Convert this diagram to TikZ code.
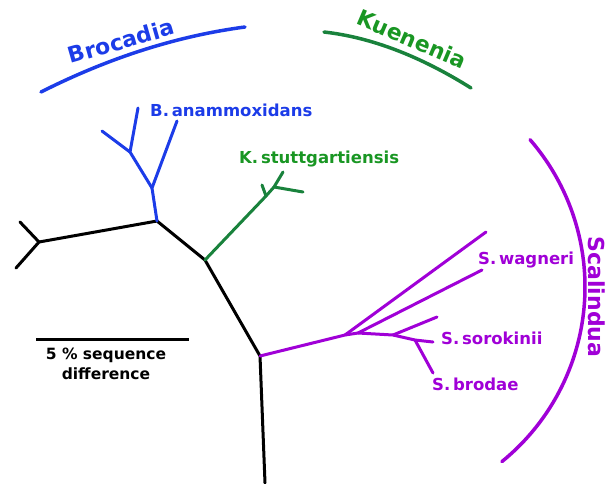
\documentclass[tikz,border=0pt]{standalone}
\usepackage{fontspec}
\setmainfont{DejaVu Sans}
\begin{document}
\definecolor{brocblue}{RGB}{28,60,232}
\definecolor{kuline}{RGB}{25,130,60}
\definecolor{kutext}{RGB}{25,150,35}
\definecolor{scapurple}{RGB}{160,0,215}
\begin{tikzpicture}[x=1pt,y=-1pt,
  branch/.style={line width=3pt,line cap=round,line join=round},
  clade/.style={line width=3.5pt,line cap=round},
  species/.style={font=\fontsize{16.5}{18}\selectfont\bfseries,inner sep=0pt,anchor=west},
  cladelabel/.style={font=\fontsize{22}{24}\selectfont\bfseries,inner sep=0pt}]
\useasboundingbox (0,0) rectangle (609,483);
% black backbone
\coordinate (bot) at (265,483);
\coordinate (n3) at (260,356);
\coordinate (n2) at (205,260);
\coordinate (n1) at (157,221);
\coordinate (l) at (39,242);
\coordinate (lt) at (20,222);
\coordinate (lb) at (16,268);
\draw[branch,black] (bot) -- (n3) -- (n2) -- (n1) -- (l);
\draw[branch,black] (lt) -- (l) -- (lb);
% blue Brocadia
\coordinate (b1) at (152,188);
\coordinate (b2) at (130,152);
\coordinate (bt1) at (177,121);
\coordinate (bt2) at (138,108);
\coordinate (bt3) at (102,131);
\draw[branch,brocblue] (n1) -- (b1) -- (bt1);
\draw[branch,brocblue] (b1) -- (b2) -- (bt2);
\draw[branch,brocblue] (b2) -- (bt3);
% green Kuenenia
\coordinate (g1) at (266,196);
\coordinate (gs) at (262,185);
\coordinate (g2) at (274,187);
\coordinate (gt1) at (283,172);
\coordinate (gt2) at (303,192);
\draw[branch,kuline] (n2) -- (g1) -- (g2) -- (gt1);
\draw[branch,kuline] (g1) -- (gs);
\draw[branch,kuline] (g2) -- (gt2);
% purple Scalindua
\coordinate (m1) at (345,335);
\coordinate (m2) at (358,333);
\coordinate (m3) at (393,335);
\coordinate (m4) at (415,340);
\coordinate (mt1) at (486,232);
\coordinate (mt2) at (482,270);
\coordinate (mt3) at (437,317);
\coordinate (mt4) at (433,342);
\coordinate (mt5) at (433,373);
\draw[branch,scapurple] (n3) -- (m1) -- (m2) -- (m3) -- (m4) -- (mt4);
\draw[branch,scapurple] (m1) -- (mt1);
\draw[branch,scapurple] (m2) -- (mt2);
\draw[branch,scapurple] (m3) -- (mt3);
\draw[branch,scapurple] (m4) -- (mt5);
% clade arcs
\coordinate (ba) at (41,92);
\coordinate (bc) at (245,27);
\draw[clade,brocblue] (ba) .. controls (109,57.7) and (177,36) .. (bc);
\coordinate (ka) at (324,32);
\coordinate (kc) at (471,88);
\draw[clade,kuline] (ka) .. controls (371,37.3) and (420,56) .. (kc);
\draw[clade,scapurple] plot[domain=-40.9:50.9,samples=60,smooth] ({360+225*cos(\x)},{287+225*sin(\x)});
% clade labels
\node[cladelabel,brocblue,rotate=16] (lbroc) at (121,41) {Brocadia};
\node[cladelabel,kutext,rotate=-23] (lkuen) at (412,39) {Kuenenia};
\node[cladelabel,scapurple,rotate=-90] (lscal) at (597,297) {Scalindua};
% species labels
\node[species,brocblue] (sbana) at (150,110) {B.\,anammoxidans};
\node[species,kutext] (skstu) at (239,159) {K.\,stuttgartiensis};
\node[species,scapurple] (sswag) at (478,260) {S.\,wagneri};
\node[species,scapurple] (sssor) at (441,338) {S.\,sorokinii};
\node[species,scapurple] (ssbro) at (432,384) {S.\,brodae};
% scale bar
\coordinate (sa) at (36,339);
\coordinate (sb) at (189,339);
\draw[branch,black,line cap=butt] (sa) -- (sb);
\node[font=\fontsize{15.5}{20}\selectfont\bfseries,align=center,inner sep=0pt] (scale) at (106,364) {5 \% sequence\\difference};
\end{tikzpicture}
\end{document}
